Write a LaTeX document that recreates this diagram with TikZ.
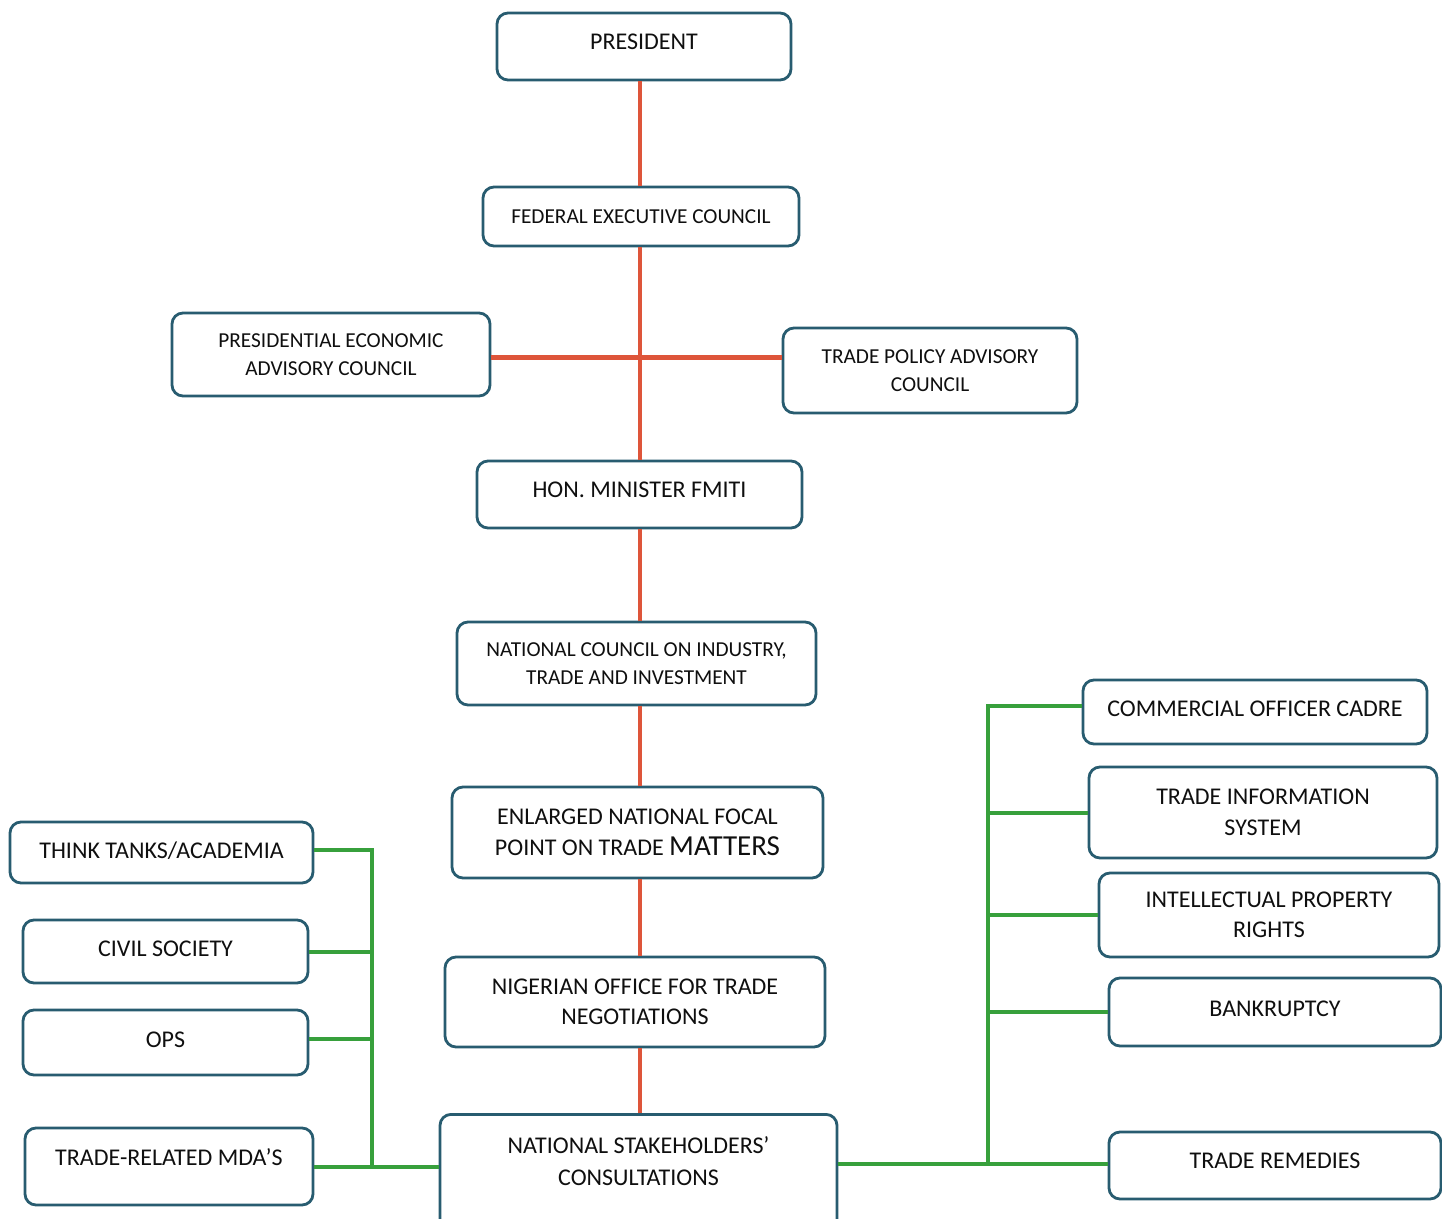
\documentclass[tikz,border=0pt]{standalone}
\usepackage{fontspec}
\setmainfont{Carlito}
\definecolor{boxc}{RGB}{40,92,112}
\definecolor{redc}{RGB}{222,85,58}
\definecolor{greenc}{RGB}{55,160,60}
\definecolor{txt}{RGB}{15,15,15}
\tikzset{
  box/.style={draw=boxc, line width=2.8pt, rounded corners=11pt, fill=white,
    align=center, inner sep=0pt, text=txt, font=\fontsize{24}{30.5}\selectfont},
  smallbox/.style={box, font=\fontsize{21.3}{27.5}\selectfont},
  lbl/.style={align=center, inner sep=0pt, text=txt, font=\fontsize{24}{31.5}\selectfont},
  redline/.style={draw=redc, line width=4pt},
  redwide/.style={draw=redc, line width=5pt},
  greenline/.style={draw=greenc, line width=4pt},
}
\begin{document}
\begin{tikzpicture}[x=1pt,y=-1pt]
\useasboundingbox (0,0) rectangle (1442,1218);
\fill[white] (0,0) rectangle (1442,1218);
\clip (0,0) rectangle (1442,1218);

% spine coordinates
\coordinate (sp) at (640,0);
\coordinate (gl) at (372,0);
\coordinate (gr) at (988,0);

% central column
\node[box, minimum width=294pt, minimum height=67pt, text depth=10pt] (pres) at (644,46.5) {PRESIDENT};
\node[smallbox, minimum width=316pt, minimum height=59pt] (fec) at (641,216.5) {FEDERAL EXECUTIVE COUNCIL};
\node[smallbox, minimum width=318pt, minimum height=83pt] (peac) at (331,354.5) {PRESIDENTIAL ECONOMIC\\ADVISORY COUNCIL};
\node[smallbox, minimum width=294pt, minimum height=85pt] (tpac) at (930,370.5) {TRADE POLICY ADVISORY\\COUNCIL};
\node[box, minimum width=325pt, minimum height=67pt, text depth=9pt] (hon) at (639.5,494.5) {HON. MINISTER FMITI};
\node[smallbox, minimum width=359pt, minimum height=83pt] (ncit) at (636.5,663.5) {NATIONAL COUNCIL ON INDUSTRY,\\TRADE AND INVESTMENT};
\node[box, minimum width=371pt, minimum height=91pt] (enfp) at (637.5,832.5) {ENLARGED NATIONAL FOCAL\\POINT ON TRADE {\fontsize{29}{30}\selectfont MATTERS}};
\node[box, minimum width=380pt, minimum height=90pt] (notn) at (635,1002) {NIGERIAN OFFICE FOR TRADE\\NEGOTIATIONS};
\node[box, minimum width=397pt, minimum height=140pt, anchor=north] (nsc) at (638.5,1113) {};
\node[lbl] (nsct) at (638.5,1161) {NATIONAL STAKEHOLDERS'\\CONSULTATIONS};

% left column
\node[box, minimum width=303pt, minimum height=61pt, text depth=5pt] (tt) at (161.5,852.5) {THINK TANKS/ACADEMIA};
\node[box, minimum width=285pt, minimum height=63pt, text depth=5pt] (cs) at (165.5,951.5) {CIVIL SOCIETY};
\node[box, minimum width=285pt, minimum height=65pt, text depth=5pt] (ops) at (165.5,1042.5) {OPS};
\node[box, minimum width=288pt, minimum height=77pt, text depth=18pt] (mda) at (169,1166.5) {TRADE-RELATED MDA'S};

% right column
\node[box, minimum width=344pt, minimum height=64pt, text depth=6pt] (coc) at (1255,712) {COMMERCIAL OFFICER CADRE};
\node[box, minimum width=348pt, minimum height=91pt] (tis) at (1263,812.5) {TRADE INFORMATION\\SYSTEM};
\node[box, minimum width=340pt, minimum height=84pt] (ipr) at (1269,915) {INTELLECTUAL PROPERTY\\RIGHTS};
\node[box, minimum width=332pt, minimum height=68pt, text depth=6pt] (bank) at (1275,1012) {BANKRUPTCY};
\node[box, minimum width=332pt, minimum height=67pt, text depth=10pt] (tr) at (1275,1165.5) {TRADE REMEDIES};

% red connectors
\draw[redline] (pres.south -| sp) -- (fec.north -| sp);
\draw[redline] (fec.south -| sp) -- (hon.north -| sp);
\draw[redwide] ([yshift=-3pt]peac.east) -- ([yshift=-3pt]peac.east -| tpac.west);
\draw[redline] (hon.south -| sp) -- (ncit.north -| sp);
\draw[redline] (ncit.south -| sp) -- (enfp.north -| sp);
\draw[redline] (enfp.south -| sp) -- (notn.north -| sp);
\draw[redline] (notn.south -| sp) -- (nsc.north -| sp);

% green connectors, left
\draw[greenline] ([yshift=3pt]tt.east) -- ([yshift=3pt]tt.east -| gl) -- (mda.east -| gl);
\draw[greenline] (cs.east) -- (cs.east -| gl);
\draw[greenline] ([yshift=4pt]ops.east) -- ([yshift=4pt]ops.east -| gl);
\draw[greenline] (mda.east) -- (nsc.west |- mda.east);

% green connectors, right
\draw[greenline] ([yshift=6pt]coc.west) -- ([yshift=6pt]coc.west -| gr) -- (tr.west -| gr);
\draw[greenline] (tis.west) -- (tis.west -| gr);
\draw[greenline] (ipr.west) -- (ipr.west -| gr);
\draw[greenline] (bank.west) -- (bank.west -| gr);
\draw[greenline] ([yshift=2pt]nsc.east |- tr.west) -- ([yshift=2pt]tr.west);
\end{tikzpicture}
\end{document}
